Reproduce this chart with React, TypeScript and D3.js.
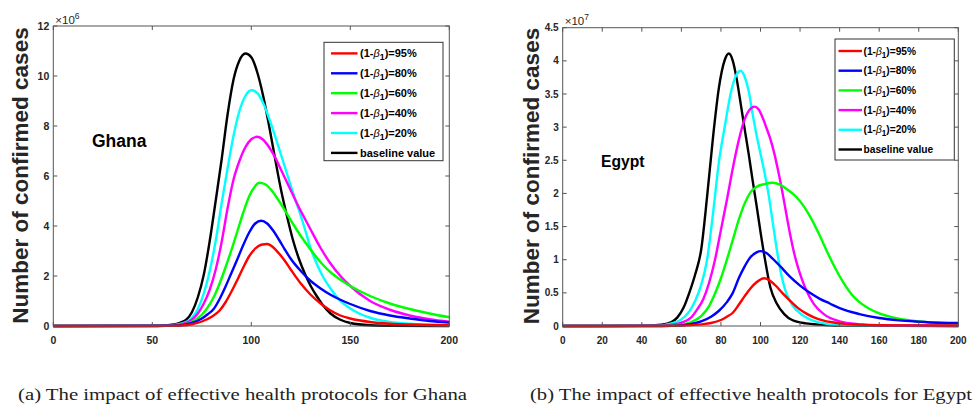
import React from 'react';
import * as d3 from 'd3';

type Pt = [number, number];

// ---------- shared labels / colours ----------
const legendPercents = ['95%', '80%', '60%', '40%', '20%'];
const baselineLabel = 'baseline value';
const seriesColors = ['#ff0000', '#0000ff', '#00ff00', '#ff00ff', '#00ffff', '#000000'];
const yAxisTitle = 'Number of confirmed cases';

// ---------- Ghana (values x 10^6) ----------
const ghanaXTicks = [0, 50, 100, 150, 200];
const ghanaYTicks = [0, 2, 4, 6, 8, 10, 12];
const ghanaRed95: Pt[] = [[0,0],[60,0.005],[65,0.02],[70,0.07],[75,0.18],[80,0.37],[84,0.62],[87,0.95],[90,1.38],[93,1.85],[96,2.35],[99,2.8],[102,3.1],[105,3.25],[108,3.28],[111,3.15],[114,2.9],[117,2.6],[120,2.25],[125,1.7],[130,1.25],[135,0.9],[140,0.62],[145,0.42],[150,0.3],[160,0.16],[170,0.09],[180,0.06],[190,0.04],[200,0.03]];
const ghanaBlue80: Pt[] = [[0,0],[60,0.01],[65,0.04],[70,0.12],[75,0.3],[78,0.47],[81,0.68],[84,1.08],[87,1.58],[90,2.13],[93,2.68],[96,3.25],[99,3.75],[102,4.1],[105,4.21],[108,4.1],[111,3.82],[114,3.45],[117,3.05],[120,2.68],[125,2.2],[130,1.8],[135,1.5],[140,1.25],[145,1.05],[150,0.88],[160,0.6],[170,0.42],[180,0.3],[190,0.2],[200,0.14]];
const ghanaGreen60: Pt[] = [[0,0],[55,0.003],[60,0.015],[65,0.05],[70,0.17],[75,0.45],[78,0.75],[81,1.15],[84,1.7],[87,2.35],[90,3.05],[93,3.8],[96,4.55],[99,5.2],[102,5.6],[104,5.73],[107,5.67],[110,5.45],[113,5.12],[116,4.75],[120,4.22],[125,3.6],[130,3.05],[135,2.55],[140,2.15],[145,1.85],[150,1.6],[160,1.2],[170,0.9],[180,0.68],[190,0.5],[200,0.35]];
const ghanaMagenta40: Pt[] = [[0,0],[55,0.005],[60,0.02],[65,0.07],[70,0.25],[73,0.5],[76,0.9],[79,1.45],[82,2.25],[85,3.35],[88,4.7],[91,5.85],[94,6.6],[97,7.15],[100,7.47],[103,7.57],[106,7.45],[109,7.15],[112,6.75],[115,6.25],[118,5.75],[121,5.25],[124,4.75],[127,4.3],[130,3.85],[135,3.12],[140,2.5],[145,2.0],[150,1.6],[160,1.0],[170,0.65],[180,0.42],[190,0.27],[200,0.17]];
const ghanaCyan20: Pt[] = [[0,0],[55,0.01],[60,0.03],[65,0.1],[68,0.2],[70,0.33],[73,0.68],[76,1.3],[79,2.2],[82,3.4],[85,4.9],[88,6.3],[91,7.6],[94,8.6],[97,9.2],[100,9.43],[103,9.32],[106,8.92],[109,8.3],[112,7.6],[115,6.85],[118,6.1],[121,5.35],[124,4.65],[127,3.9],[130,3.1],[133,2.5],[136,2.0],[140,1.5],[145,1.0],[150,0.7],[155,0.48],[160,0.33],[170,0.16],[180,0.09],[190,0.05],[200,0.04]];
const ghanaBaseline: Pt[] = [[0,0],[50,0],[55,0.01],[60,0.05],[64,0.13],[67,0.24],[70,0.55],[73,1.15],[76,2.05],[79,3.4],[82,5.0],[85,6.65],[88,8.45],[91,9.85],[94,10.62],[97,10.9],[100,10.75],[103,10.15],[106,9.2],[109,8.0],[112,6.7],[115,5.45],[118,4.4],[121,3.45],[124,2.7],[127,2.1],[130,1.6],[133,1.2],[136,0.85],[140,0.5],[145,0.25],[150,0.12],[160,0.03],[170,0.01],[200,0]];

// ---------- Egypt (values x 10^7) ----------
const egyptXTicks = [0, 20, 40, 60, 80, 100, 120, 140, 160, 180, 200];
const egyptYTicks = [0, 0.5, 1, 1.5, 2, 2.5, 3, 3.5, 4, 4.5];
const egyptRed95: Pt[] = [[0,0],[50,0.001],[60,0.005],[70,0.025],[75,0.045],[80,0.09],[83,0.14],[86,0.2],[89,0.32],[92,0.45],[95,0.57],[98,0.66],[102,0.72],[105,0.68],[108,0.6],[111,0.5],[115,0.38],[119,0.27],[123,0.19],[127,0.13],[132,0.08],[140,0.04],[150,0.02],[160,0.012],[200,0.008]];
const egyptBlue80: Pt[] = [[0,0],[50,0.001],[60,0.01],[65,0.03],[70,0.07],[75,0.14],[79,0.23],[83,0.36],[86,0.5],[89,0.72],[92,0.9],[95,1.04],[98,1.11],[100,1.13],[103,1.1],[106,1.02],[110,0.9],[115,0.74],[120,0.61],[125,0.5],[130,0.41],[135,0.34],[140,0.27],[150,0.18],[160,0.12],[170,0.085],[180,0.065],[190,0.05],[200,0.045]];
const egyptGreen60: Pt[] = [[0,0],[50,0.002],[60,0.02],[65,0.06],[70,0.15],[74,0.3],[77,0.49],[80,0.72],[83,1.0],[86,1.3],[89,1.6],[92,1.85],[95,2.02],[98,2.1],[102,2.14],[106,2.16],[110,2.13],[114,2.05],[118,1.95],[122,1.8],[126,1.6],[130,1.36],[134,1.1],[138,0.86],[142,0.65],[146,0.48],[150,0.36],[155,0.26],[160,0.19],[170,0.11],[180,0.07],[190,0.05],[200,0.04]];
const egyptMagenta40: Pt[] = [[0,0],[50,0.005],[55,0.02],[60,0.05],[65,0.13],[68,0.25],[71,0.4],[74,0.65],[77,1.0],[80,1.45],[83,1.9],[86,2.38],[89,2.8],[92,3.12],[95,3.28],[97,3.31],[99,3.27],[101,3.15],[103,2.99],[105,2.82],[107,2.6],[109,2.33],[111,2.03],[113,1.7],[115,1.38],[117,1.1],[119,0.88],[121,0.7],[123,0.55],[127,0.33],[132,0.18],[140,0.07],[150,0.025],[160,0.01],[200,0]];
const egyptCyan20: Pt[] = [[0,0],[45,0.005],[50,0.01],[55,0.04],[60,0.1],[64,0.22],[67,0.38],[70,0.62],[73,1.0],[76,1.7],[79,2.48],[82,3.02],[85,3.52],[88,3.8],[90,3.85],[92,3.76],[94,3.55],[96,3.2],[98,2.88],[100,2.6],[102,2.32],[104,2.0],[106,1.6],[108,1.2],[110,0.85],[113,0.5],[116,0.32],[120,0.19],[125,0.1],[130,0.05],[140,0.015],[200,0]];
const egyptBaseline: Pt[] = [[0,0],[40,0.003],[50,0.02],[55,0.06],[58,0.13],[61,0.27],[64,0.5],[67,0.78],[70,1.15],[73,1.95],[76,2.85],[79,3.6],[82,4.02],[84,4.11],[86,4.0],[88,3.72],[90,3.35],[92,2.97],[94,2.6],[96,2.2],[98,1.82],[100,1.42],[102,1.05],[105,0.58],[108,0.35],[112,0.18],[116,0.09],[123,0.04],[130,0.02],[140,0.005],[200,0]];

const ghanaSeries = [ghanaRed95, ghanaBlue80, ghanaGreen60, ghanaMagenta40, ghanaCyan20, ghanaBaseline];
const egyptSeries = [egyptRed95, egyptBlue80, egyptGreen60, egyptMagenta40, egyptCyan20, egyptBaseline];

const captionA = '(a) The impact of effective health protocols for Ghana';
const captionB = '(b) The impact of effective health protocols for Egypt';

const SANS = '"Liberation Sans", Arial, sans-serif';
const AXIS = '#262626';

interface PanelProps {
  left: number; right: number; top: number; bottom: number;
  yMax: number; xTicks: number[]; yTicks: number[];
  series: Pt[][]; exponent: string; country: string;
  countryX: number; countryY: number; countryFs: number;
  legend: { x: number; y: number; w: number; h: number; row0: number; step: number; lx1: number; lx2: number; tx: number; fs: number };
  titleX: number; titleY: number; tickFs: number;
}

function Panel(p: PanelProps) {
  const x = d3.scaleLinear().domain([0, 200]).range([p.left, p.right]);
  const y = d3.scaleLinear().domain([0, p.yMax]).range([p.bottom, p.top]);
  const line = d3.line<Pt>().x(d => x(d[0])).y(d => y(d[1])).curve(d3.curveMonotoneX);
  const tl = 4;
  const order = [5, 4, 3, 2, 1, 0];
  const lg = p.legend;
  return (
    <g>
      {order.map(i => (
        <path key={i} d={line(p.series[i]) || ''} fill="none" stroke={seriesColors[i]} strokeWidth={2.4} strokeLinejoin="round" />
      ))}
      <rect x={p.left} y={p.top} width={p.right - p.left} height={p.bottom - p.top} fill="none" stroke="#555" strokeWidth={1} />
      {p.xTicks.map(t => (
        <g key={'x' + t}>
          <line x1={x(t)} x2={x(t)} y1={p.bottom} y2={p.bottom - tl} stroke="#555" />
          <line x1={x(t)} x2={x(t)} y1={p.top} y2={p.top + tl} stroke="#555" />
          <text x={x(t)} y={p.bottom + 17.5} textAnchor="middle" fontFamily={SANS} fontWeight="bold" fontSize={p.tickFs} fill={AXIS}>{t}</text>
        </g>
      ))}
      {p.yTicks.map(t => (
        <g key={'y' + t}>
          <line x1={p.left} x2={p.left + tl} y1={y(t)} y2={y(t)} stroke="#555" />
          <line x1={p.right} x2={p.right - tl} y1={y(t)} y2={y(t)} stroke="#555" />
          <text x={p.left - 4} y={y(t)} dy="0.36em" textAnchor="end" fontFamily={SANS} fontWeight="bold" fontSize={p.tickFs} fill={AXIS}>{String(t)}</text>
        </g>
      ))}
      <text x={p.left + 2} y={p.top - 2.5} fontFamily={SANS} fontSize={11.5} fill={AXIS}>
        ×10<tspan dy={-5} fontSize={8.5}>{p.exponent}</tspan>
      </text>
      <text transform={`translate(${p.titleX},${p.titleY}) rotate(-90)`} textAnchor="middle" fontFamily={SANS} fontWeight="bold" fontSize={22.5} fill={AXIS}>{yAxisTitle}</text>
      <text x={p.countryX} y={p.countryY} fontFamily={SANS} fontWeight="bold" fontSize={p.countryFs} fill="#000">{p.country}</text>
      <g>
        <rect x={lg.x} y={lg.y} width={lg.w} height={lg.h} fill="#fff" stroke="#333" strokeWidth={1} />
        {seriesColors.map((c, i) => {
          const cy = lg.row0 + i * lg.step;
          const ty = cy + lg.fs * 0.36;
          return (
            <g key={'lg' + i}>
              <line x1={lg.lx1} x2={lg.lx2} y1={cy} y2={cy} stroke={c} strokeWidth={2.4} />
              {i < 5 ? (
                <text x={lg.tx} y={ty} fontFamily={SANS} fontWeight="bold" fontSize={lg.fs} fill="#000">
                  (1-<tspan fontStyle="italic" fontWeight="normal">β</tspan><tspan dy={3} fontSize={lg.fs * 0.8}>1</tspan><tspan dy={-3}>)={legendPercents[i]}</tspan>
                </text>
              ) : (
                <text x={lg.tx} y={ty} fontFamily={SANS} fontWeight="bold" fontSize={lg.fs} fill="#000">{baselineLabel}</text>
              )}
            </g>
          );
        })}
      </g>
    </g>
  );
}

export default function App() {
  return (
    <svg width={973} height={410} viewBox="0 0 973 410" style={{ position: 'absolute', left: 0, top: 0, background: '#fff' }}>
      <rect x={0} y={0} width={973} height={410} fill="#fff" />
      <Panel
        left={53.3} right={449.3} top={26} bottom={326} yMax={12}
        xTicks={ghanaXTicks} yTicks={ghanaYTicks} series={ghanaSeries}
        exponent="6" country="Ghana" countryX={92} countryY={147} countryFs={17.5}
        legend={{ x: 324, y: 42.3, w: 119, h: 118.4, row0: 53.4, step: 19.9, lx1: 331, lx2: 357.5, tx: 360, fs: 11 }}
        titleX={28} titleY={175.5} tickFs={10.5}
      />
      <Panel
        left={562.7} right={958.3} top={27.7} bottom={326} yMax={4.5}
        xTicks={egyptXTicks} yTicks={egyptYTicks} series={egyptSeries}
        exponent="7" country="Egypt" countryX={601} countryY={167} countryFs={15.7}
        legend={{ x: 835, y: 39, w: 119.3, h: 121, row0: 51, step: 19.7, lx1: 838.5, lx2: 862, tx: 863.5, fs: 10.2 }}
        titleX={539} titleY={176} tickFs={10}
      />
      <text x={18} y={400} textLength={449} lengthAdjust="spacingAndGlyphs" fontFamily={'"Liberation Serif", "Times New Roman", serif'} fontSize={16.5} fill="#222">{captionA}</text>
      <text x={530} y={400} textLength={442} lengthAdjust="spacingAndGlyphs" fontFamily={'"Liberation Serif", "Times New Roman", serif'} fontSize={16.5} fill="#222">{captionB}</text>
    </svg>
  );
}
